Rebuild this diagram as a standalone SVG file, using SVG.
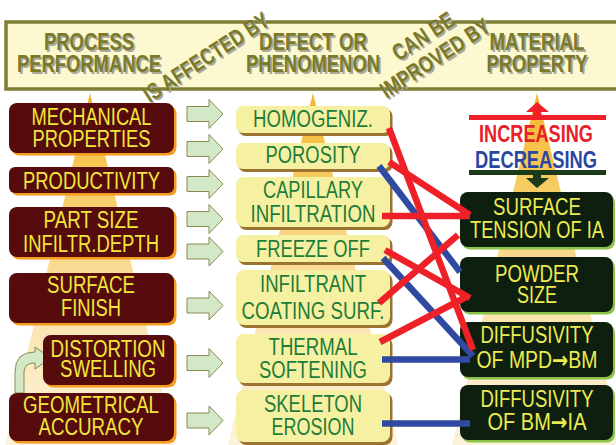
<svg xmlns="http://www.w3.org/2000/svg" width="616" height="445" viewBox="0 0 616 445">
<defs>
<linearGradient id="beam" gradientUnits="userSpaceOnUse" x1="0" y1="93" x2="0" y2="445">
<stop offset="0" stop-color="#f4b52a"/>
<stop offset="0.3" stop-color="#f7cf6a"/>
<stop offset="0.6" stop-color="#fae2aa"/>
<stop offset="1" stop-color="#fdf3dc"/>
</linearGradient>
<path id="ga" d="M0,-7.5 H22 V-14.5 L36,0 L22,14.5 V7.5 H0 Z"/>
</defs>
<style>
text{font-family:"Liberation Sans",Arial,sans-serif;font-size:23px;text-anchor:middle}
.hd{font-weight:bold;fill:#7a7a2a}
.hs{font-weight:bold;fill:#a9a99c}
.lb{fill:#560c0c}
.ls{fill:#f49b20}
.lt{fill:#f2e73c}
.mb{fill:#f6f1a2}
.ms{fill:#9b7330}
.mt{fill:#1e7b38}
.rb{fill:#0e1f10}
.rs{fill:#8cc44a}
.rt{fill:#ecec50}
.ar{font-family:"DejaVu Sans",sans-serif;font-weight:bold}
.ga{fill:#d2e8c6;stroke:#8a8a52;stroke-width:1}
.red{stroke:#ee2028;stroke-width:6.5;fill:none}
.blue{stroke:#2f4aa0;stroke-width:6.5;fill:none}
</style>
<rect width="616" height="445" fill="#ffffff"/>
<!-- beams -->
<g id="beams" fill="url(#beam)">
<polygon points="90,93 5,445 175,445"/>
<polygon points="313,93 228,445 398,445"/>
<polygon points="537,93 452,445 622,445"/>
</g>
<!-- header -->
<g id="header">
<rect x="6" y="22" width="620" height="67" fill="#fcf8d0" stroke="#7d7d33" stroke-width="3.5"/>
<g transform="translate(1.8,1.8)" class="hs">
<text x="89" y="50" textLength="90" lengthAdjust="spacingAndGlyphs" class="hs">PROCESS</text>
<text x="89" y="72" textLength="144" lengthAdjust="spacingAndGlyphs" class="hs">PERFORMANCE</text>
<text x="313" y="50" textLength="108" lengthAdjust="spacingAndGlyphs" class="hs">DEFECT OR</text>
<text x="313" y="72" textLength="134" lengthAdjust="spacingAndGlyphs" class="hs">PHENOMENON</text>
<text x="537" y="50" textLength="95" lengthAdjust="spacingAndGlyphs" class="hs">MATERIAL</text>
<text x="537" y="72" textLength="101" lengthAdjust="spacingAndGlyphs" class="hs">PROPERTY</text>
<text transform="translate(206,57) rotate(-33)" y="8" textLength="145" lengthAdjust="spacingAndGlyphs" class="hs">IS AFFECTED BY</text>
<text transform="translate(423,36) rotate(-33)" y="8" textLength="69" lengthAdjust="spacingAndGlyphs" class="hs">CAN BE</text>
<text transform="translate(435,58) rotate(-33)" y="8" textLength="126" lengthAdjust="spacingAndGlyphs" class="hs">IMPROVED BY</text>
</g>
<text x="89" y="50" textLength="90" lengthAdjust="spacingAndGlyphs" class="hd">PROCESS</text>
<text x="89" y="72" textLength="144" lengthAdjust="spacingAndGlyphs" class="hd">PERFORMANCE</text>
<text x="313" y="50" textLength="108" lengthAdjust="spacingAndGlyphs" class="hd">DEFECT OR</text>
<text x="313" y="72" textLength="134" lengthAdjust="spacingAndGlyphs" class="hd">PHENOMENON</text>
<text x="537" y="50" textLength="95" lengthAdjust="spacingAndGlyphs" class="hd">MATERIAL</text>
<text x="537" y="72" textLength="101" lengthAdjust="spacingAndGlyphs" class="hd">PROPERTY</text>
<text transform="translate(206,57) rotate(-33)" y="8" textLength="145" lengthAdjust="spacingAndGlyphs" class="hd">IS AFFECTED BY</text>
<text transform="translate(423,36) rotate(-33)" y="8" textLength="69" lengthAdjust="spacingAndGlyphs" class="hd">CAN BE</text>
<text transform="translate(435,58) rotate(-33)" y="8" textLength="126" lengthAdjust="spacingAndGlyphs" class="hd">IMPROVED BY</text>
</g>
<!-- legend -->
<g id="legend">
<rect x="469" y="115" width="137" height="5" fill="#ee2028"/>
<polygon points="537,102 549,112 541,112 541,116 533,116 533,112 526,112" fill="#ee2028"/>
<text x="536" y="142" textLength="114" lengthAdjust="spacingAndGlyphs" style="font-weight:bold;fill:#e8202a">INCREASING</text>
<text x="536" y="168" textLength="122" lengthAdjust="spacingAndGlyphs" style="font-weight:bold;fill:#2c47a0">DECREASING</text>
<rect x="469" y="170" width="137" height="5" fill="#1b3a1a"/>
<polygon points="533,174 541,174 541,178 549,178 537,188 526,178 533,178" fill="#1b3a1a"/>
</g>
<!-- block arrows -->
<g id="block-arrows" class="ga">
<use href="#ga" transform="translate(187,114)"/>
<use href="#ga" transform="translate(187,149)"/>
<use href="#ga" transform="translate(187,184)"/>
<use href="#ga" transform="translate(187,219)"/>
<use href="#ga" transform="translate(187,251.5)"/>
<use href="#ga" transform="translate(187,305.5)"/>
<use href="#ga" transform="translate(187,363)"/>
<use href="#ga" transform="translate(187,420.5)"/>
<path d="M15,393 L15,372 Q15,352 35,352 L35,347 L51,358 L35,369 L35,363 Q24,363 24,372 L24,393 Z"/>
</g>
<!-- left column -->
<g id="mechanical">
<rect class="ls" x="11.5" y="105.5" width="165" height="50" rx="8"/>
<rect class="lb" x="9" y="103" width="165" height="50" rx="8"/>
<text class="lt" x="91.5" y="125" textLength="120" lengthAdjust="spacingAndGlyphs">MECHANICAL</text>
<text class="lt" x="91.5" y="147" textLength="118" lengthAdjust="spacingAndGlyphs">PROPERTIES</text>
</g>
<g id="productivity">
<rect class="ls" x="11.5" y="169.5" width="165" height="26" rx="6"/>
<rect class="lb" x="9" y="167" width="165" height="26" rx="6"/>
<text class="lt" x="91.5" y="189" textLength="137" lengthAdjust="spacingAndGlyphs">PRODUCTIVITY</text>
</g>
<g id="partsize">
<rect class="ls" x="11.5" y="209.5" width="165" height="50" rx="8"/>
<rect class="lb" x="9" y="207" width="165" height="50" rx="8"/>
<text class="lt" x="91" y="228" textLength="95" lengthAdjust="spacingAndGlyphs">PART SIZE</text>
<text class="lt" x="91" y="252" textLength="136" lengthAdjust="spacingAndGlyphs">INFILTR.DEPTH</text>
</g>
<g id="surfacefinish">
<rect class="ls" x="11.5" y="275.5" width="165" height="50" rx="8"/>
<rect class="lb" x="9" y="273" width="165" height="50" rx="8"/>
<text class="lt" x="91" y="293" textLength="88" lengthAdjust="spacingAndGlyphs">SURFACE</text>
<text class="lt" x="91" y="316" textLength="60" lengthAdjust="spacingAndGlyphs">FINISH</text>
</g>
<g id="distortion">
<rect class="ls" x="45.5" y="337.5" width="131" height="50" rx="8"/>
<rect class="lb" x="43" y="335" width="131" height="50" rx="8"/>
<text class="lt" x="108" y="357" textLength="115" lengthAdjust="spacingAndGlyphs">DISTORTION</text>
<text class="lt" x="108" y="377" textLength="96" lengthAdjust="spacingAndGlyphs">SWELLING</text>
</g>
<g id="geometrical">
<rect class="ls" x="11.5" y="395.5" width="165" height="48" rx="8"/>
<rect class="lb" x="9" y="393" width="165" height="48" rx="8"/>
<text class="lt" x="91" y="413" textLength="136" lengthAdjust="spacingAndGlyphs">GEOMETRICAL</text>
<text class="lt" x="91" y="435" textLength="105" lengthAdjust="spacingAndGlyphs">ACCURACY</text>
</g>
<!-- middle column -->
<g id="homogeniz">
<rect class="ms" x="238.5" y="109" width="154" height="27" rx="7"/>
<rect class="mb" x="236" y="106" width="154" height="27" rx="7"/>
<text class="mt" x="313" y="126.7" textLength="120" lengthAdjust="spacingAndGlyphs">HOMOGENIZ.</text>
</g>
<g id="porosity">
<rect class="ms" x="238.5" y="146" width="154" height="26" rx="7"/>
<rect class="mb" x="236" y="143" width="154" height="26" rx="7"/>
<text class="mt" x="313" y="163.3" textLength="95" lengthAdjust="spacingAndGlyphs">POROSITY</text>
</g>
<g id="capillary">
<rect class="ms" x="238.5" y="180" width="154" height="50" rx="8"/>
<rect class="mb" x="236" y="177" width="154" height="50" rx="8"/>
<text class="mt" x="313" y="198.3" textLength="100" lengthAdjust="spacingAndGlyphs">CAPILLARY</text>
<text class="mt" x="313" y="221.5" textLength="125" lengthAdjust="spacingAndGlyphs">INFILTRATION</text>
</g>
<g id="freezeoff">
<rect class="ms" x="238.5" y="238" width="154" height="27" rx="7"/>
<rect class="mb" x="236" y="235" width="154" height="27" rx="7"/>
<text class="mt" x="313" y="256.5" textLength="114" lengthAdjust="spacingAndGlyphs">FREEZE OFF</text>
</g>
<g id="infiltrant">
<rect class="ms" x="238.5" y="273" width="154" height="55" rx="8"/>
<rect class="mb" x="236" y="270" width="154" height="55" rx="8"/>
<text class="mt" x="313" y="291.5" textLength="106" lengthAdjust="spacingAndGlyphs">INFILTRANT</text>
<text class="mt" x="313" y="318.5" textLength="143" lengthAdjust="spacingAndGlyphs">COATING SURF.</text>
</g>
<g id="thermal">
<rect class="ms" x="238.5" y="337" width="154" height="49" rx="8"/>
<rect class="mb" x="236" y="334" width="154" height="49" rx="8"/>
<text class="mt" x="313" y="355" textLength="89" lengthAdjust="spacingAndGlyphs">THERMAL</text>
<text class="mt" x="313" y="378.3" textLength="108" lengthAdjust="spacingAndGlyphs">SOFTENING</text>
</g>
<g id="skeleton">
<rect class="ms" x="238.5" y="393" width="154" height="52" rx="8"/>
<rect class="mb" x="236" y="390" width="154" height="52" rx="8"/>
<text class="mt" x="313" y="411.7" textLength="98" lengthAdjust="spacingAndGlyphs">SKELETON</text>
<text class="mt" x="313" y="435" textLength="83" lengthAdjust="spacingAndGlyphs">EROSION</text>
</g>
<!-- right column -->
<g id="surfacetension">
<rect class="rs" x="462" y="194.5" width="153" height="55" rx="8"/>
<rect class="rb" x="460" y="192" width="153" height="55" rx="8"/>
<text class="rt" x="537" y="215" textLength="88" lengthAdjust="spacingAndGlyphs">SURFACE</text>
<text class="rt" x="537" y="238" textLength="134" lengthAdjust="spacingAndGlyphs">TENSION OF IA</text>
</g>
<g id="powdersize">
<rect class="rs" x="462" y="259.5" width="153" height="55" rx="8"/>
<rect class="rb" x="460" y="257" width="153" height="55" rx="8"/>
<text class="rt" x="537" y="282" textLength="84" lengthAdjust="spacingAndGlyphs">POWDER</text>
<text class="rt" x="537" y="303" textLength="40" lengthAdjust="spacingAndGlyphs">SIZE</text>
</g>
<g id="diffmpd">
<rect class="rs" x="462" y="324.5" width="153" height="55" rx="8"/>
<rect class="rb" x="460" y="322" width="153" height="55" rx="8"/>
<text class="rt" x="537" y="343" textLength="113" lengthAdjust="spacingAndGlyphs">DIFFUSIVITY</text>
<text class="rt" x="537" y="368" textLength="121" lengthAdjust="spacingAndGlyphs">OF MPD<tspan class="ar">→</tspan>BM</text>
</g>
<g id="diffbm">
<rect class="rs" x="462" y="387.5" width="153" height="55" rx="8"/>
<rect class="rb" x="460" y="385" width="153" height="55" rx="8"/>
<text class="rt" x="537" y="407" textLength="113" lengthAdjust="spacingAndGlyphs">DIFFUSIVITY</text>
<text class="rt" x="537" y="430" textLength="99" lengthAdjust="spacingAndGlyphs">OF BM<tspan class="ar">→</tspan>IA</text>
</g>
<!-- connectors -->
<g id="connectors">
<path class="blue" d="M379,166 L460,272"/>
<path class="blue" d="M383,258 L473,356"/>
<path class="blue" d="M382,359.5 L470,359.5"/>
<path class="blue" d="M382,423.5 L470,423.5"/>
<path class="red" d="M389,128 L473,350"/>
<path class="red" d="M389,162 L470,215"/>
<path class="red" d="M382,216 L470,216"/>
<path class="red" d="M385,250 L470,298"/>
<path class="red" d="M379,303 L458,235"/>
<path class="red" d="M380,342 L468,296"/>
</g>
</svg>
